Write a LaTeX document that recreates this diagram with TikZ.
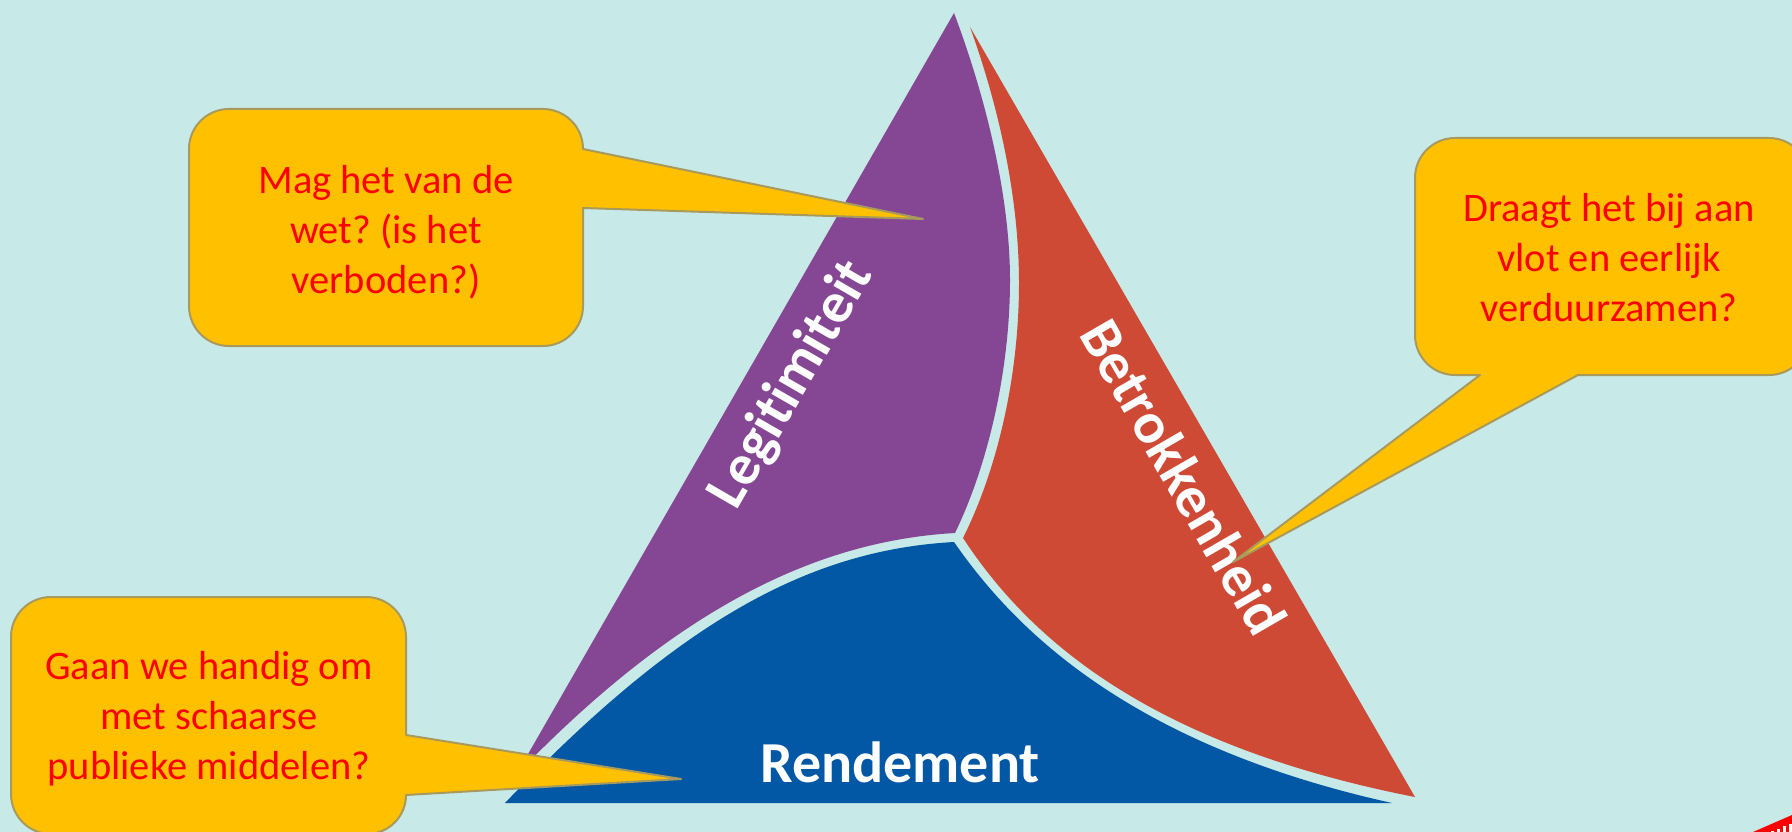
\documentclass[tikz,border=0pt]{standalone}
\usepackage{fontspec}
\setmainfont[Ligatures=NoCommon]{Carlito}
\definecolor{bgc}{HTML}{C7E9E7}
\definecolor{purp}{HTML}{854793}
\definecolor{redd}{HTML}{CE4A35}
\definecolor{blu}{HTML}{0358A6}
\definecolor{org}{HTML}{FFC000}
\definecolor{edgec}{HTML}{A89A5C}
\tikzset{
  callout/.style={fill=org,draw=edgec,line width=2pt,line join=round},
  calltext/.style={text=red,font=\fontsize{40.5}{50}\selectfont,align=center,inner sep=0pt},
  seclabel/.style={text=white,font=\fontsize{58}{60}\selectfont\bfseries,inner sep=0pt}
}
\frenchspacing
\begin{document}
\begin{tikzpicture}[x=1pt,y=-1pt]
\path[use as bounding box,fill=bgc] (0,0) rectangle (1792,832);
% sectors
\fill[purp] (954,13) .. controls (985,95) and (1010,195) .. (1010,280)
  .. controls (1010,370) and (988,465) .. (955,533)
  .. controls (815,541) and (675,610) .. (516,775) -- cycle;
\fill[redd] (970,27) .. controls (1000,110) and (1019,200) .. (1019,283)
  .. controls (1019,375) and (998,468) .. (963,538)
  .. controls (1030,640) and (1150,745) .. (1415,797) -- cycle;
\fill[blu] (954,542) .. controls (810,550) and (680,620) .. (505,803)
  -- (1392,803)
  .. controls (1130,745) and (1015,630) .. (954,542) -- cycle;
% labels
\node[seclabel,rotate=60] (leg) at (792,385) {Legitimiteit};
\node[seclabel,rotate=-60] (bet) at (1184,477) {Betrokkenheid};
\node[seclabel] (ren) at (900,762) {Rendement};
% callouts
\draw[callout] (229,109) -- (543,109) arc[start angle=-90,end angle=0,radius=40] -- (583,149)
  -- (923,219) -- (583,208) -- (583,306) arc[start angle=0,end angle=90,radius=40]
  -- (229,346) arc[start angle=90,end angle=180,radius=40] -- (189,149)
  arc[start angle=180,end angle=270,radius=40] -- cycle;
\draw[callout] (1455,138) -- (1769,138) arc[start angle=-90,end angle=0,radius=40] -- (1809,335)
  arc[start angle=0,end angle=90,radius=40] -- (1578,375) -- (1233,562) -- (1480,375) -- (1455,375)
  arc[start angle=90,end angle=180,radius=40] -- (1415,178)
  arc[start angle=180,end angle=270,radius=40] -- cycle;
\draw[callout] (51,597) -- (366,597) arc[start angle=-90,end angle=0,radius=40] -- (406,735)
  -- (681,779) -- (406,795) arc[start angle=0,end angle=90,radius=39]
  -- (51,834) arc[start angle=90,end angle=180,radius=40] -- (11,637)
  arc[start angle=180,end angle=270,radius=40] -- cycle;
\node[calltext] (t1) at (386,232) {Mag het van de\\wet? (is het\\verboden?)};
\node[calltext] (t2) at (1609,258) {Draagt het bij aan\\vlot en eerlijk\\verduurzamen?};
\node[calltext] (t3) at (209,719) {Gaan we handig om\\met schaarse\\publieke middelen?};
% corner mark
\fill[red] (1753,832) -- (1792,815) -- (1792,832) -- cycle;
\foreach \x/\y in {1771/831,1777/828.5,1783/826,1789/823.5}{\fill[white] (\x,832) rectangle (\x+2.8,\y);}
\end{tikzpicture}
\end{document}
